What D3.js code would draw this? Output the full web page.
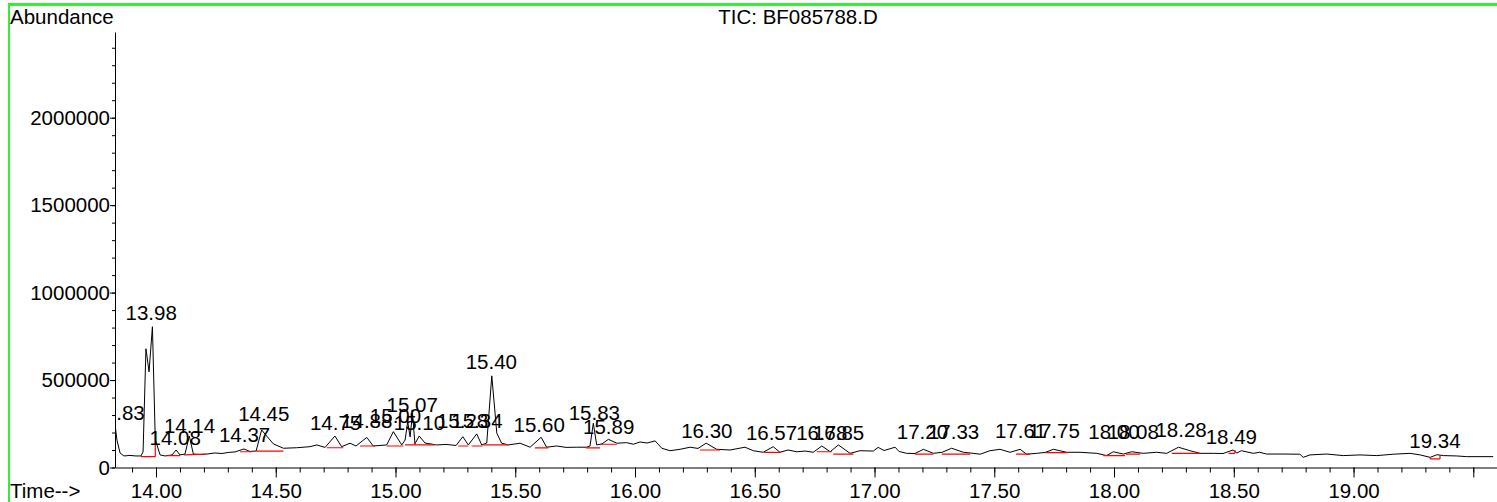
<!DOCTYPE html>
<html>
<head>
<meta charset="utf-8">
<script src="https://cdn.jsdelivr.net/npm/d3@7"></script>
<style>
  html, body { margin: 0; padding: 0; background: #fff; }
  svg { display: block; font-family: "Liberation Sans", Arial, sans-serif; }
</style>
</head>
<body>
<svg width="1497" height="502"></svg>
<script>
// retention time (min) and abundance of the TIC trace
const traceTime = [13.829, 13.837, 13.850, 13.866, 13.891, 13.916, 13.937, 13.946, 13.958, 13.971,
  13.985, 13.997, 14.004, 14.017, 14.038, 14.067, 14.084, 14.100, 14.121, 14.139,
  14.156, 14.184, 14.213, 14.246, 14.276, 14.301, 14.330, 14.367, 14.392, 14.418,
  14.441, 14.462, 14.490, 14.532, 14.587, 14.643, 14.671, 14.706, 14.747, 14.775,
  14.810, 14.835, 14.880, 14.907, 14.963, 14.991, 15.026, 15.040, 15.051, 15.061,
  15.071, 15.081, 15.099, 15.123, 15.172, 15.211, 15.253, 15.281, 15.304, 15.339,
  15.360, 15.381, 15.402, 15.423, 15.443, 15.471, 15.520, 15.562, 15.608, 15.631,
  15.673, 15.712, 15.757, 15.798, 15.812, 15.826, 15.840, 15.862, 15.889, 15.924,
  15.965, 15.993, 16.021, 16.050, 16.084, 16.112, 16.146, 16.188, 16.230, 16.263,
  16.297, 16.341, 16.397, 16.459, 16.494, 16.535, 16.577, 16.605, 16.639, 16.675,
  16.710, 16.744, 16.780, 16.815, 16.849, 16.898, 16.939, 16.995, 17.015, 17.040,
  17.086, 17.102, 17.134, 17.169, 17.204, 17.246, 17.282, 17.322, 17.371, 17.412,
  17.441, 17.482, 17.524, 17.566, 17.608, 17.635, 17.677, 17.712, 17.747, 17.803,
  17.858, 17.928, 17.969, 17.997, 18.039, 18.074, 18.122, 18.178, 18.220, 18.269,
  18.317, 18.359, 18.414, 18.455, 18.497, 18.513, 18.532, 18.581, 18.608, 18.637,
  18.706, 18.776, 18.790, 18.818, 18.888, 18.957, 19.027, 19.097, 19.166, 19.236,
  19.278, 19.320, 19.348, 19.376, 19.431, 19.473, 19.583];
const traceAbund = [243000, 157000, 83000, 66000, 69000, 66000, 66000, 89000, 679000, 547000,
  805000, 157000, 129000, 72000, 66000, 72000, 100000, 72000, 77000, 180000,
  77000, 74000, 77000, 83000, 80000, 86000, 89000, 106000, 92000, 94000,
  215000, 180000, 135000, 110000, 113000, 119000, 129000, 115000, 180000, 119000,
  139000, 123000, 172000, 123000, 129000, 205000, 129000, 157000, 261000, 175000,
  312000, 135000, 180000, 140000, 129000, 132000, 126000, 176000, 129000, 192000,
  129000, 140000, 524000, 196000, 139000, 129000, 139000, 116000, 173000, 116000,
  123000, 115000, 116000, 116000, 123000, 253000, 129000, 135000, 161000, 139000,
  142000, 133000, 146000, 140000, 152000, 110000, 96000, 104000, 116000, 109000,
  139000, 104000, 100000, 116000, 96000, 87000, 119000, 87000, 100000, 90000,
  94000, 87000, 123000, 90000, 129000, 81000, 96000, 94000, 115000, 97000,
  116000, 92000, 81000, 80000, 104000, 81000, 87000, 110000, 87000, 81000,
  76000, 96000, 104000, 87000, 104000, 76000, 81000, 86000, 104000, 87000,
  87000, 81000, 68000, 90000, 77000, 90000, 81000, 87000, 81000, 116000,
  96000, 81000, 81000, 80000, 100000, 83000, 96000, 81000, 87000, 77000,
  77000, 76000, 58000, 72000, 77000, 68000, 72000, 68000, 76000, 81000,
  72000, 58000, 73000, 68000, 66000, 62000, 62000];

// integrated peaks: retention time, label and label height
const peakTime = [13.846, 13.98, 14.08, 14.14, 14.37, 14.45, 14.75, 14.88, 15.00, 15.07,
  15.10, 15.28, 15.34, 15.40, 15.60, 15.83, 15.89, 16.30, 16.57, 16.78,
  16.85, 17.20, 17.33, 17.61, 17.75, 18.00, 18.08, 18.28, 18.49, 19.34];
const peakLabel = ["13.83", "13.98", "14.08", "14.14", "14.37", "14.45", "14.75", "14.88", "15.00", "15.07",
  "15.10", "15.28", "15.34", "15.40", "15.60", "15.83", "15.89", "16.30", "16.57", "16.78",
  "16.85", "17.20", "17.33", "17.61", "17.75", "18.00", "18.08", "18.28", "18.49", "19.34"];
const peakApex = [238000, 810000, 94000, 163000, 113000, 232000, 180000, 190000, 219000, 285000,
  180000, 190000, 190000, 528000, 171000, 238000, 157000, 133000, 123000, 123000,
  123000, 127000, 127000, 133000, 133000, 127000, 127000, 142000, 100000, 76000];

// integration baselines (start / end)
const baseT0 = [13.937, 14.047, 14.117, 14.351, 14.418, 14.713, 14.852, 14.963, 15.040, 15.081,
  15.262, 15.318, 15.367, 15.582, 15.795, 15.857, 16.271, 16.539, 16.759, 16.828,
  17.169, 17.281, 17.591, 17.712, 17.955, 18.050, 18.241, 18.478, 19.320];
const baseA0 = [62000, 68000, 72000, 90000, 94000, 113000, 123000, 123000, 129000, 129000,
  123000, 123000, 129000, 112000, 112000, 133000, 100000, 87000, 90000, 77000,
  77000, 77000, 76000, 85000, 68000, 77000, 81000, 81000, 49000];
const baseT1 = [13.997, 14.100, 14.205, 14.400, 14.532, 14.782, 14.914, 15.033, 15.081, 15.164,
  15.304, 15.364, 15.471, 15.638, 15.854, 15.924, 16.355, 16.608, 16.822, 16.912,
  17.246, 17.399, 17.649, 17.809, 18.046, 18.109, 18.359, 18.505, 19.361];
const baseA1 = [62000, 68000, 77000, 90000, 94000, 113000, 123000, 123000, 129000, 129000,
  123000, 123000, 129000, 112000, 112000, 133000, 100000, 87000, 90000, 77000,
  77000, 77000, 76000, 85000, 68000, 77000, 81000, 81000, 49000];

// vertical drop lines
const dropT = [13.997, 15.081, 18.505, 19.320, 19.361];
const dropA0 = [62000, 129000, 81000, 49000, 49000];
const dropA1 = [167000, 150000, 100000, 58000, 70000];

const xMajor = [14.0, 14.5, 15.0, 15.5, 16.0, 16.5, 17.0, 17.5, 18.0, 18.5, 19.0, 19.5];
const yMajor = [0, 500000, 1000000, 1500000, 2000000];

const svg = d3.select("svg");
const margin = { top: 32, right: 0, bottom: 34.5, left: 115 };
const width = +svg.attr("width") - margin.left - margin.right;
const height = +svg.attr("height") - margin.top - margin.bottom;
const fontSize = "20.5px";

// green frame
svg.append("rect").attr("x", 8).attr("y", 3).attr("width", 1489).attr("height", 3).attr("fill", "#33ee33");
svg.append("rect").attr("x", 8).attr("y", 3).attr("width", 2).attr("height", 499).attr("fill", "#33ee33");

const g = svg.append("g").attr("transform", `translate(${margin.left},${margin.top})`);

const x = d3.scaleLinear().domain([13.8288, 19.599]).range([0, width]);
const y = d3.scaleLinear().domain([0, 2490000]).range([height, 0]);

g.append("clipPath").attr("id", "plot")
  .append("rect").attr("x", 0).attr("y", -margin.top).attr("width", width).attr("height", height + margin.top);

// x axis: minor ticks then major ticks with labels
const minorX = d3.range(139, 196).map(i => i / 10);
g.append("g")
  .attr("transform", `translate(0,${height})`)
  .call(d3.axisBottom(x).tickValues(minorX).tickSize(5).tickSizeOuter(0).tickFormat(""))
  .call(a => a.select(".domain").remove());
const xAxis = g.append("g")
  .attr("transform", `translate(0,${height})`)
  .call(d3.axisBottom(x).tickValues(xMajor).tickSize(10).tickSizeOuter(0).tickPadding(5.5)
    .tickFormat(d => d === 19.5 ? "" : d3.format(".2f")(d)));
xAxis.select(".domain").attr("stroke", "#000");
xAxis.selectAll("text").style("font-size", fontSize).attr("fill", "#000");

// y axis
const minorY = d3.range(0, 25).map(i => i * 100000);
g.append("g")
  .call(d3.axisLeft(y).tickValues(minorY).tickSize(3).tickSizeOuter(0).tickFormat(""))
  .call(a => a.select(".domain").remove());
const yAxis = g.append("g")
  .call(d3.axisLeft(y).tickValues(yMajor).tickSize(5).tickSizeOuter(0).tickPadding(0)
    .tickFormat(d3.format("d")));
yAxis.selectAll("text").style("font-size", fontSize).attr("fill", "#000");

// trace
const plot = g.append("g").attr("clip-path", "url(#plot)");
const trace = traceTime.map((t, i) => [t, traceAbund[i]]);
plot.append("path")
  .datum(trace)
  .attr("fill", "none")
  .attr("stroke", "#000")
  .attr("stroke-width", 1)
  .attr("d", d3.line().x(d => x(d[0])).y(d => y(d[1])));

// integration baselines
plot.selectAll(".base")
  .data(baseT0)
  .enter()
  .append("line")
  .attr("class", "base")
  .attr("x1", (d, i) => x(d))
  .attr("y1", (d, i) => y(baseA0[i]))
  .attr("x2", (d, i) => x(baseT1[i]))
  .attr("y2", (d, i) => y(baseA1[i]))
  .attr("stroke", "#ff0000")
  .attr("stroke-width", 1.2);
plot.selectAll(".drop")
  .data(dropT)
  .enter()
  .append("line")
  .attr("class", "drop")
  .attr("x1", d => x(d))
  .attr("x2", d => x(d))
  .attr("y1", (d, i) => y(dropA0[i]))
  .attr("y2", (d, i) => y(dropA1[i]))
  .attr("stroke", "#ff0000")
  .attr("stroke-width", 1.2);

// peak labels (overlapping labels are kept as in the instrument printout)
plot.selectAll(".peak")
  .data(peakTime)
  .enter()
  .append("text")
  .attr("class", "peak")
  .attr("x", d => x(d))
  .attr("y", (d, i) => y(peakApex[i]) - 6)
  .attr("text-anchor", "middle")
  .style("font-size", fontSize)
  .text((d, i) => peakLabel[i]);

// titles
svg.append("text").attr("x", 10).attr("y", 24).style("font-size", fontSize).text("Abundance");
svg.append("text").attr("x", 798).attr("y", 24).attr("text-anchor", "middle").style("font-size", fontSize).text("TIC: BF085788.D");
svg.append("text").attr("x", 10).attr("y", 498).style("font-size", fontSize).text("Time-->");
</script>
</body>
</html>
